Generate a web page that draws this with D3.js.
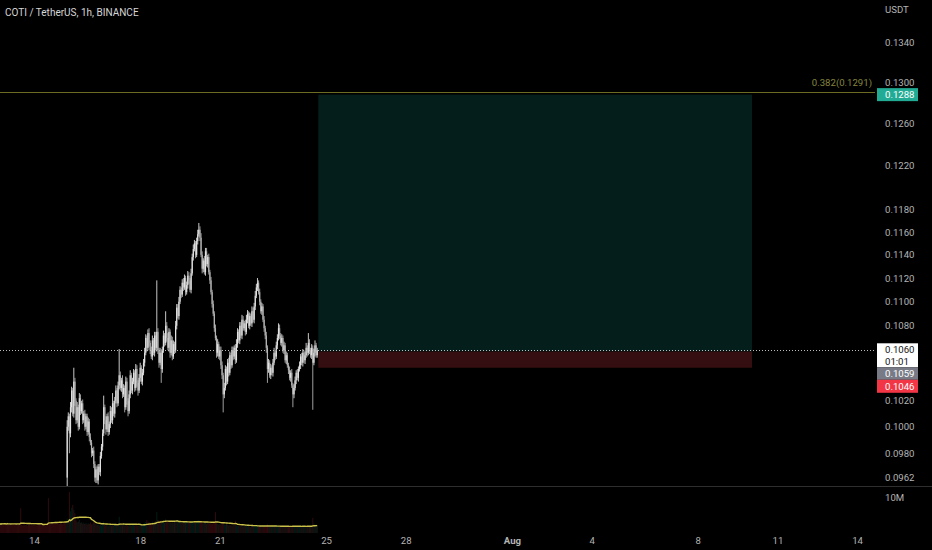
<!DOCTYPE html>
<html><head><meta charset="utf-8">
<script src="https://cdn.jsdelivr.net/npm/d3@7"></script>
<style>html,body{margin:0;padding:0;background:#000;overflow:hidden}svg{display:block}</style>
</head><body><svg id="c" width="932" height="550"></svg>
<script>
// ---------- DATA ----------
const title = "COTI / TetherUS, 1h, BINANCE";
const currency = "USDT";
const firstCandleTime = "2023-07-15T06:00:00Z";   // hourly candles
const firstOpen = 962;                             // price in 1e-4 USDT
const closes = [
 1000,1008,995,1015,1028,1010,1035,1020,1005,1015,
 1000,1022,1012,1018,1005,1010,1000,1008,996,1004,
 992,988,980,982,972,962,968,960,970,966,
 978,985,995,1015,1005,998,1008,996,1002,1012,
 1005,1018,1010,1020,1028,1018,1032,1040,1030,1036,
 1025,1030,1015,1035,1020,1012,1025,1040,1028,1035,
 1042,1030,1045,1034,1028,1038,1046,1035,1042,1050,
 1058,1070,1062,1074,1066,1060,1055,1068,1058,1072,
 1062,1075,1060,1050,1058,1045,1060,1072,1066,1080,
 1070,1062,1075,1058,1068,1055,1065,1060,1080,1095,
 1088,1100,1110,1106,1116,1112,1120,1108,1114,1122,
 1118,1110,1124,1138,1145,1150,1140,1152,1158,1162,
 1155,1140,1128,1135,1125,1143,1132,1138,1125,1118,
 1108,1098,1090,1078,1070,1058,1065,1055,1060,1048,
 1040,1025,1030,1045,1035,1050,1042,1056,1048,1060,
 1055,1062,1052,1065,1075,1068,1080,1072,1085,1078,
 1082,1075,1085,1090,1080,1088,1082,1092,1085,1096,
 1105,1112,1116,1108,1100,1092,1096,1085,1078,1072,
 1062,1045,1050,1040,1046,1042,1050,1058,1055,1064,
 1070,1078,1072,1066,1070,1060,1064,1052,1056,1048,
 1044,1038,1042,1032,1025,1030,1036,1042,1038,1045,
 1048,1055,1050,1058,1052,1056,1062,1058,1066,1060,
 1056,1062,1050,1058,1064,1056,1060
];
const wickUp = [
 5,3,2,4,3,2,11,3,2,4, 2,4,3,2,3,2,3,2,2,3, 2,3,2,2,3,2,2,3,2,2,
 3,2,3,9,2,3,2,3,2,4, 3,8,2,3,4,2,3,21,3,2, 4,3,2,4,3,2,3,4,2,3,
 3,2,4,3,2,3,4,2,3,3, 4,3,2,3,4,2,3,4,2,3, 3,43,3,2,4,3,3,4,2,12,
 3,4,3,2,4,3,3,2,4,3, 3,4,3,2,3,4,3,2,3,4, 3,2,4,3,4,3,2,3,4,6,
 3,4,3,2,4,3,3,2,3,2, 3,2,3,2,3,2,4,2,3,3, 3,2,4,3,2,3,4,3,2,3,
 3,2,3,4,3,2,3,3,4,3, 2,3,4,3,2,3,2,4,3,3, 4,3,4,2,3,2,3,2,3,2,
 3,2,3,2,3,2,3,4,2,3, 3,4,3,2,3,2,3,2,3,2, 2,3,2,3,2,3,3,2,3,2,
 3,2,3,3,2,3,4,2,8,3, 2,3,2,3,4,2,2
];
const wickDn = [
 7,3,15,3,4,2,3,4,3,2, 3,2,3,2,3,2,3,2,3,2, 3,2,3,2,3,3,4,2,3,2,
 3,2,3,2,3,4,2,3,2,3, 2,3,2,3,2,3,2,3,2,3, 3,2,4,2,3,4,2,3,2,3,
 2,3,2,3,4,2,3,2,3,2, 3,2,3,2,3,3,2,3,2,3, 2,3,3,4,2,11,3,2,3,2,
 3,2,3,4,2,3,2,3,2,3, 2,3,2,3,2,3,2,3,2,3, 3,2,3,2,3,2,3,2,3,2,
 3,2,4,3,2,3,2,3,2,3, 2,3,2,3,2,4,3,2,3,3, 3,14,3,2,3,2,3,2,3,2,
 3,2,3,2,3,2,3,2,3,2, 2,3,2,3,2,3,2,3,2,3, 3,2,3,2,3,2,3,2,3,3,
 4,11,3,2,3,2,3,2,3,2, 3,2,3,2,3,2,3,2,3,2, 3,2,3,2,10,3,2,3,2,3,
 2,3,2,3,2,3,2,3,2,3, 2,3,37,2,3,2,2
];
const firstVolumeTime = "2023-07-12T17:00:00Z";   // volume visible before price enters the pane
const volumes = [ // millions
 2.6,2.3,2.8,2.4,2.7,2.5,2.2,2.9,2.4,2.6, 2.3,2.7,2.5,2.4,2.8,2.2,2.6,2.5,2.3,6.9,
 2.4,2.1,2.5,2.2,2.6,2.0,2.3,2.4,2.1,2.5, 2.2,2.6,2.3,2.5,2.1,2.4,2.7,2.3,2.5,2.4,
 2.6,2.5,2.8,2.4,9.7,2.7,2.5,2.9,2.6,2.8, 2.7,3.0,2.6,2.8,2.5,2.9,2.7,2.6,3.0,2.8,
 2.7,
 4.0,3.6,11.4,6.0,7.0,7.8,6.5,5.5,3.5,3.0, 3.2,3.6,2.8,3.0,2.6,2.9,2.5,2.8,2.4,2.7,
 2.5,2.9,2.4,2.6,3.1,2.8,2.5,2.2,2.4,2.1, 2.3,2.0,2.4,3.2,2.2,2.1,2.4,2.0,2.3,2.2,
 2.1,2.6,2.2,2.4,2.5,2.2,2.6,4.5,2.8,2.4, 2.2,2.5,2.1,2.4,2.2,2.0,2.3,2.5,2.1,2.2,
 2.4,2.1,2.5,2.2,2.0,2.3,2.5,2.1,2.4,2.6, 2.8,3.0,3.6,2.9,3.1,2.7,2.8,3.2,2.9,3.0,
 3.3,5.8,3.6,3.2,3.0,3.5,3.1,3.4,2.9,3.8, 3.0,3.2,2.9,3.1,2.8,3.0,2.9,3.2,3.4,3.6,
 3.2,3.0,3.3,2.9,3.1,3.0,3.2,2.8,3.0,3.1, 2.9,2.8,3.0,3.2,3.4,3.1,2.9,3.3,3.5,3.6,
 3.2,3.0,2.9,2.7,2.8,3.0,2.6,2.8,2.7,2.9, 2.7,2.5,2.8,3.0,5.8,2.7,2.5,2.4,2.6,2.3,
 2.5,3.0,2.4,2.2,2.5,2.3,2.1,2.4,2.2,2.0, 2.2,2.4,3.4,2.1,2.0,2.2,1.9,2.1,2.0,1.8,
 2.0,1.9,2.1,1.8,2.0,1.9,1.7,2.0,1.8,1.9, 2.1,2.0,2.3,1.9,1.8,2.0,1.7,1.9,2.1,1.8,
 2.0,2.4,1.9,1.8,1.7,1.9,1.8,2.0,1.7,1.9, 1.8,2.0,1.9,1.7,1.8,2.0,1.9,1.7,1.8,1.9,
 1.8,1.9,2.0,1.8,2.2,1.9,1.8,1.7,1.9,1.8, 1.7,1.9,1.8,2.0,1.8,1.9,1.7,1.8,2.0,1.9,
 1.8,2.0,4.2,2.6,2.2,2.4,2.0
];
const volumeMaLength = 20;
const priceTicks = [0.1340,0.1300,0.1260,0.1220,0.1180,0.1160,0.1140,0.1120,0.1100,0.1080,0.1020,0.1000,0.0980,0.0962];
const timeTickDates = ["2023-07-14","2023-07-18","2023-07-21","2023-07-25","2023-07-28","2023-08-01","2023-08-04","2023-08-08","2023-08-11","2023-08-14"];
const timeTickLabels = ["14","18","21","25","28","Aug","4","8","11","14"];
const fibPrice = 0.1291;
const fibLabel = "0.382(0.1291)";
const positionStart = "2023-07-24T17:00:00Z";
const positionEnd = "2023-08-10T01:00:00Z";
const entryPrice = 0.1059, targetPrice = 0.1288, stopPrice = 0.1046;
const lastPrice = 0.1060, countdown = "01:01";
const volumeTickValue = 10, volumeTickLabel = "10M";

// ---------- LAYOUT ----------
const W = 932, H = 550, plotR = 875, paneBottom = 486, volBottom = 533;
const FONT = "Roboto, 'Liberation Sans', sans-serif";
const FS = 9.6;
const svg = d3.select("#c").style("background","#000");
svg.append("rect").attr("width",W).attr("height",H).attr("fill","#000");

const x = d3.scaleUtc().domain([new Date("2023-07-14T00:00:00Z"), new Date("2023-08-14T00:00:00Z")]).range([34, 857.1]);
const y = d3.scaleLog().domain([0.1340, 0.0962]).range([42.7, 477.6]);
const yv = d3.scaleLinear().domain([0, 10]).range([volBottom, 497]);

const defs = svg.append("defs");
defs.append("clipPath").attr("id","pc").append("rect").attr("x",0).attr("y",0).attr("width",plotR).attr("height",paneBottom);
defs.append("clipPath").attr("id","vc").append("rect").attr("x",0).attr("y",paneBottom+1).attr("width",plotR).attr("height",volBottom-paneBottom+4);

const HOUR = 3600e3;
const t0 = new Date(firstCandleTime).getTime();
const candles = closes.map((c,i)=>{
  const o = i===0 ? firstOpen : closes[i-1];
  return {t:new Date(t0+i*HOUR), o:o/1e4, c:c/1e4, h:(Math.max(o,c)+wickUp[i])/1e4, l:(Math.min(o,c)-wickDn[i])/1e4};
});
const tv0 = new Date(firstVolumeTime).getTime();
const vols = volumes.map((v,k)=>{
  const t = new Date(tv0+k*HOUR);
  const ci = Math.round((t.getTime()-t0)/HOUR);
  const up = ci>=0 ? candles[ci].c>=candles[ci].o : false;
  const ma = d3.mean(volumes.slice(Math.max(0,k-volumeMaLength+1), k+1));
  return {t, v, up, ma};
});

// ---------- PRICE PANE ----------
const pp = svg.append("g").attr("clip-path","url(#pc)");
const xs = x(new Date(positionStart)), xe = x(new Date(positionEnd));
pp.append("rect").attr("x",xs).attr("width",xe-xs).attr("y",y(targetPrice)).attr("height",y(entryPrice)-y(targetPrice)).attr("fill","#041f1b");
pp.append("rect").attr("x",xs).attr("width",xe-xs).attr("y",y(entryPrice)).attr("height",y(stopPrice)-y(entryPrice)).attr("fill","#350e11");

// fib line
pp.append("line").attr("x1",0).attr("x2",plotR).attr("y1",Math.round(y(fibPrice))+0.5).attr("y2",Math.round(y(fibPrice))+0.5).attr("stroke","#6c6c22").attr("stroke-width",1);
svg.append("text").attr("x",872).attr("y",y(fibPrice)-6).attr("text-anchor","end").attr("fill","#85853f").attr("font-family",FONT).attr("font-size",FS).text(fibLabel);

// candles
const cg = pp.append("g");
cg.selectAll("line.w").data(candles).join("line").attr("class","w")
  .attr("x1",d=>x(d.t)).attr("x2",d=>x(d.t)).attr("y1",d=>y(d.h)).attr("y2",d=>y(d.l))
  .attr("stroke",d=>d.c>=d.o?"#dedede":"#b0b0b0").attr("stroke-width",0.9);
cg.selectAll("rect.b").data(candles).join("rect").attr("class","b")
  .attr("x",d=>x(d.t)-0.6).attr("width",1.2)
  .attr("y",d=>y(Math.max(d.o,d.c))).attr("height",d=>Math.max(0.8, Math.abs(y(d.o)-y(d.c))))
  .attr("fill",d=>d.c>=d.o?"#e2e2e2":"#b4b4b4");

// last price dotted line
pp.append("line").attr("x1",0).attr("x2",plotR).attr("y1",Math.round(y(lastPrice))+0.5).attr("y2",Math.round(y(lastPrice))+0.5)
  .attr("stroke","#bdbdbd").attr("stroke-width",1).attr("stroke-dasharray","1,2");

// ---------- VOLUME PANE ----------
const vp = svg.append("g").attr("clip-path","url(#vc)");
vp.selectAll("rect").data(vols).join("rect")
  .attr("x",d=>x(d.t)-0.5).attr("width",1)
  .attr("y",d=>yv(d.v)).attr("height",d=>volBottom-yv(d.v))
  .attr("fill",d=>d.up?"rgba(8,153,129,0.18)":"rgba(242,54,69,0.2)");
vp.append("path").datum(vols).attr("fill","none").attr("stroke","#c9c14a").attr("stroke-width",1.4)
  .attr("d",d3.line().x(d=>x(d.t)).y(d=>yv(d.ma)));

// separator
svg.append("line").attr("x1",0).attr("x2",W).attr("y1",paneBottom+0.5).attr("y2",paneBottom+0.5).attr("stroke","#2e2e2e").attr("stroke-width",1);

// ---------- AXES ----------
const axisCol = "#b4b4b4";
svg.append("text").attr("x",5).attr("y",15.5).attr("fill","#d6d6d6").attr("font-family",FONT).attr("font-size",10).text(title);
svg.append("text").attr("x",885).attr("y",13).attr("fill",axisCol).attr("font-family",FONT).attr("font-size",FS).text(currency);

const pa = svg.append("g").attr("transform",`translate(${plotR},0)`)
  .call(d3.axisRight(y).tickValues(priceTicks).tickFormat(d3.format(".4f")).tickSize(0).tickPadding(10));
pa.select(".domain").remove();
pa.selectAll("text").attr("fill",axisCol).attr("font-family",FONT).attr("font-size",FS);

svg.append("text").attr("x",885).attr("y",yv(volumeTickValue)+3.5).attr("fill",axisCol).attr("font-family",FONT).attr("font-size",FS).text(volumeTickLabel);

const ta = svg.append("g").attr("transform",`translate(0,${volBottom})`)
  .call(d3.axisBottom(x).tickValues(timeTickDates.map(d=>new Date(d+"T00:00:00Z"))).tickFormat((d,i)=>timeTickLabels[i]).tickSize(0).tickPadding(4));
ta.select(".domain").remove();
ta.selectAll("text").attr("fill",axisCol).attr("font-family",FONT).attr("font-size",FS)
  .attr("font-weight",(d,i)=>timeTickLabels[i]==="Aug"?"700":"400");

// ---------- PRICE TAGS ----------
const tagX = 877, tagW = 41;
const tg = svg.append("g").attr("font-family",FONT).attr("font-size",FS);
function tag(tagTop, h, fill, lines, color){
  tg.append("rect").attr("x",tagX).attr("y",tagTop).attr("width",tagW).attr("height",h).attr("fill",fill);
  lines.forEach((s,k)=>tg.append("text").attr("x",885).attr("y",tagTop+9.8+k*11.5).attr("fill",color).text(s));
}
const f4 = d3.format(".4f");
tag(y(targetPrice)-6.5, 13, "#22ab94", [f4(targetPrice)], "#ffffff");
const lastTop = y(lastPrice)-7;
tag(lastTop, 24, "#ffffff", [f4(lastPrice), countdown], "#131313");
const entryTop = Math.max(y(entryPrice)-6.5, lastTop+24);
tag(entryTop, 12.5, "#787b86", [f4(entryPrice)], "#ffffff");
const stopTop = Math.max(y(stopPrice)-6.5, entryTop+12.5);
tag(stopTop, 13, "#f23645", [f4(stopPrice)], "#ffffff");
</script>
</body></html>
